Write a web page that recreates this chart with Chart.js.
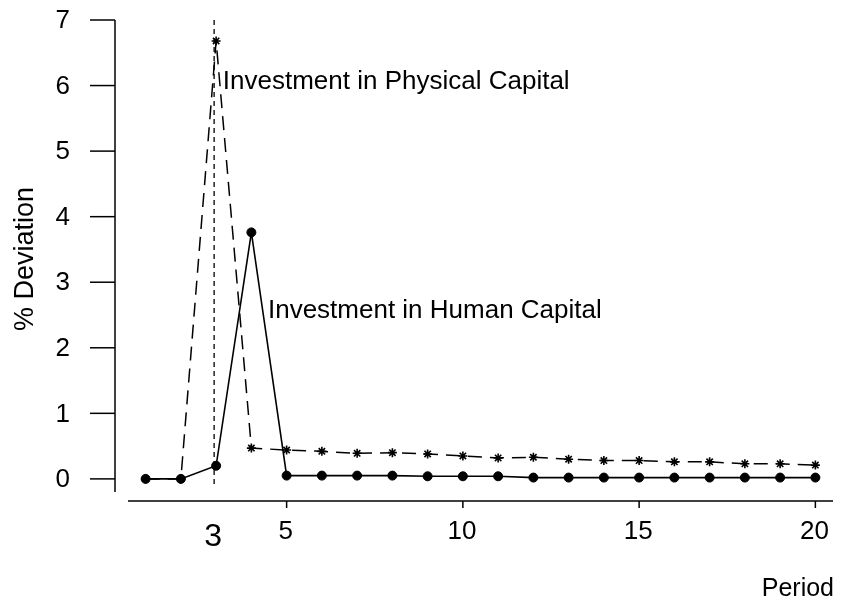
<!DOCTYPE html>
<html>
<head>
<meta charset="utf-8">
<script src="https://cdn.jsdelivr.net/npm/chart.js@4/dist/chart.umd.min.js"></script>
<style>
  html, body { margin: 0; padding: 0; background: #fff; }
  #wrap { width: 842px; height: 601px; }
</style>
</head>
<body>
<div id="wrap"><canvas id="c" width="842" height="601"></canvas></div>
<script>
// Periods after the shock and the % deviation of each investment series
const periods = [1, 2, 3, 4, 5, 6, 7, 8, 9, 10, 11, 12, 13, 14, 15, 16, 17, 18, 19, 20];
const humanCapital = [0, 0, 0.20, 3.76, 0.05, 0.05, 0.05, 0.05, 0.04, 0.04, 0.04, 0.02, 0.02, 0.02, 0.02, 0.02, 0.02, 0.02, 0.02, 0.02];
const physicalCapital = [0, 0, 6.68, 0.47, 0.44, 0.42, 0.39, 0.40, 0.38, 0.35, 0.32, 0.33, 0.30, 0.28, 0.28, 0.26, 0.26, 0.23, 0.23, 0.21];

// Axis tick labels
const yTicks = [0, 1, 2, 3, 4, 5, 6, 7];
const xTicks = [5, 10, 15, 20];
const shockPeriod = 3;

const FONT = '"Liberation Sans", Arial, Helvetica, sans-serif';

const toPoints = (vals) => vals.map((v, i) => ({ x: periods[i], y: v }));

// Draws the detached axes, tick labels, shock marker and series labels
const axesPlugin = {
  id: 'detachedAxes',
  beforeDatasetsDraw(chart) {
    const { ctx, chartArea, scales } = chart;
    const xs = scales.x, ys = scales.y;
    ctx.save();
    // dotted line marking the shock period
    const sx = xs.getPixelForValue(shockPeriod);
    ctx.strokeStyle = '#000';
    ctx.lineWidth = 1.3;
    ctx.setLineDash([5, 4]);
    ctx.beginPath();
    ctx.moveTo(sx - 2, ys.getPixelForValue(7));
    ctx.lineTo(sx - 2, chartArea.bottom - 4);
    ctx.stroke();
    ctx.restore();
  },
  afterDraw(chart) {
    const { ctx, chartArea, scales } = chart;
    const xs = scales.x, ys = scales.y;
    ctx.save();
    ctx.strokeStyle = '#000';
    ctx.fillStyle = '#000';
    ctx.lineWidth = 1.5;
    ctx.setLineDash([]);

    // y axis, set off to the left of the plotting region
    const yAxisX = chartArea.left - 13;
    ctx.beginPath();
    ctx.moveTo(yAxisX, ys.getPixelForValue(yTicks[yTicks.length - 1]));
    ctx.lineTo(yAxisX, chartArea.bottom);
    ctx.stroke();
    ctx.font = '26px ' + FONT;
    ctx.textAlign = 'right';
    ctx.textBaseline = 'middle';
    yTicks.forEach(v => {
      const py = ys.getPixelForValue(v);
      ctx.beginPath();
      ctx.moveTo(yAxisX - 25, py);
      ctx.lineTo(yAxisX, py);
      ctx.stroke();
      ctx.fillText(String(v), yAxisX - 45, py + 1);
    });

    // x axis, set off below the plotting region
    const xAxisY = chartArea.bottom + 9;
    ctx.beginPath();
    ctx.moveTo(chartArea.left, xAxisY);
    ctx.lineTo(chartArea.right, xAxisY);
    ctx.stroke();
    ctx.textAlign = 'center';
    ctx.textBaseline = 'top';
    xTicks.forEach(v => {
      const px = xs.getPixelForValue(v);
      ctx.beginPath();
      ctx.moveTo(px, xAxisY);
      ctx.lineTo(px, xAxisY + 7);
      ctx.stroke();
      ctx.fillText(String(v), px - 1, xAxisY + 18);
    });
    // shock period label
    ctx.font = '32px ' + FONT;
    ctx.fillText(String(shockPeriod), xs.getPixelForValue(shockPeriod) - 3, xAxisY + 20);

    // axis titles
    ctx.font = '25px ' + FONT;
    ctx.textAlign = 'right';
    ctx.textBaseline = 'alphabetic';
    ctx.fillText('Period', 834, 596);
    ctx.save();
    ctx.font = '27px ' + FONT;
    ctx.translate(33, 259);
    ctx.rotate(-Math.PI / 2);
    ctx.textAlign = 'center';
    ctx.fillText('% Deviation', 0, 0);
    ctx.restore();

    // series labels
    ctx.font = '26px ' + FONT;
    ctx.textAlign = 'left';
    ctx.textBaseline = 'alphabetic';
    ctx.fillText('Investment in Physical Capital', xs.getPixelForValue(3.19), ys.getPixelForValue(5.95));
    ctx.fillText('Investment in Human Capital', xs.getPixelForValue(4.47), ys.getPixelForValue(2.45));
    ctx.restore();
  }
};

new Chart(document.getElementById('c'), {
  type: 'line',
  data: {
    datasets: [
      {
        label: 'Investment in Human Capital',
        data: toPoints(humanCapital),
        borderColor: '#000',
        backgroundColor: '#000',
        borderWidth: 1.6,
        pointStyle: 'circle',
        pointRadius: 4.5,
        pointBorderWidth: 1,
        pointBackgroundColor: '#000',
        pointBorderColor: '#000',
        tension: 0
      },
      {
        label: 'Investment in Physical Capital',
        data: toPoints(physicalCapital),
        borderColor: '#000',
        backgroundColor: '#000',
        borderWidth: 1.5,
        borderDash: [14, 8],
        pointStyle: 'star',
        pointRadius: 4.5,
        pointBorderWidth: 1.6,
        pointBorderColor: '#000',
        tension: 0
      }
    ]
  },
  options: {
    responsive: false,
    animation: false,
    devicePixelRatio: 1,
    clip: false,
    layout: { padding: { left: 128, right: 9, top: 20, bottom: 109 } },
    plugins: { legend: { display: false }, tooltip: { enabled: false } },
    scales: {
      x: { type: 'linear', min: 0.5, max: 20.5, display: false },
      y: { type: 'linear', min: -0.2, max: 7, display: false }
    }
  },
  plugins: [axesPlugin]
});
</script>
</body>
</html>
